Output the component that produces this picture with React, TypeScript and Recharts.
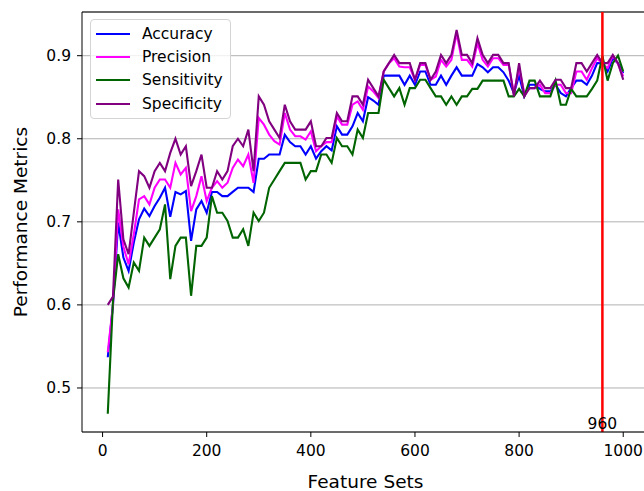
import { CartesianGrid, Line, LineChart, ReferenceLine, XAxis, YAxis } from "recharts";

const featureSets = [
  10, 20, 30, 40, 50, 60, 70, 80, 90, 100,
  110, 120, 130, 140, 150, 160, 170, 180, 190, 200,
  210, 220, 230, 240, 250, 260, 270, 280, 290, 300,
  310, 320, 330, 340, 350, 360, 370, 380, 390, 400,
  410, 420, 430, 440, 450, 460, 470, 480, 490, 500,
  510, 520, 530, 540, 550, 560, 570, 580, 590, 600,
  610, 620, 630, 640, 650, 660, 670, 680, 690, 700,
  710, 720, 730, 740, 750, 760, 770, 780, 790, 800,
  810, 820, 830, 840, 850, 860, 870, 880, 890, 900,
  910, 920, 930, 940, 950, 960, 970, 980, 990, 1000,
];

const accuracy = [
  0.537, 0.6, 0.699, 0.657, 0.641, 0.675, 0.703, 0.716, 0.707, 0.719,
  0.729, 0.741, 0.706, 0.736, 0.733, 0.737, 0.677, 0.715, 0.725, 0.711,
  0.736, 0.736, 0.731, 0.731, 0.736, 0.741, 0.741, 0.741, 0.736, 0.776,
  0.776, 0.781, 0.781, 0.781, 0.805, 0.796, 0.791, 0.791, 0.781, 0.791,
  0.776, 0.785, 0.791, 0.786, 0.815, 0.805, 0.805, 0.815, 0.831, 0.821,
  0.85, 0.846, 0.841, 0.876, 0.876, 0.876, 0.876, 0.865, 0.876, 0.865,
  0.881, 0.881, 0.865, 0.865, 0.876, 0.865, 0.876, 0.886, 0.876, 0.876,
  0.876, 0.89, 0.886, 0.88, 0.886, 0.886, 0.88, 0.87, 0.855, 0.876,
  0.851, 0.865, 0.865, 0.86, 0.857, 0.857, 0.865, 0.855, 0.851, 0.861,
  0.87, 0.87, 0.865, 0.876, 0.891, 0.891, 0.881, 0.897, 0.891, 0.879,
];

const precision = [
  0.543, 0.6, 0.715, 0.67, 0.649, 0.685, 0.727, 0.731, 0.721, 0.741,
  0.751, 0.751, 0.741, 0.771, 0.757, 0.765, 0.713, 0.731, 0.755, 0.725,
  0.741, 0.749, 0.741, 0.747, 0.765, 0.775, 0.767, 0.781, 0.747, 0.825,
  0.817, 0.805, 0.797, 0.793, 0.831, 0.811, 0.803, 0.803, 0.799, 0.809,
  0.785, 0.791, 0.796, 0.796, 0.827, 0.817, 0.817, 0.841, 0.845, 0.835,
  0.863, 0.857, 0.849, 0.881, 0.891, 0.897, 0.887, 0.886, 0.886, 0.871,
  0.889, 0.889, 0.871, 0.875, 0.895, 0.887, 0.895, 0.927, 0.895, 0.895,
  0.887, 0.915, 0.895, 0.887, 0.897, 0.897, 0.889, 0.889, 0.855, 0.885,
  0.855, 0.861, 0.861, 0.865, 0.855, 0.855, 0.865, 0.865, 0.855, 0.855,
  0.881, 0.881, 0.871, 0.885, 0.897, 0.89, 0.885, 0.9, 0.89, 0.875,
];

const sensitivity = [
  0.469, 0.605, 0.661, 0.632, 0.621, 0.651, 0.641, 0.681, 0.671, 0.681,
  0.691, 0.721, 0.631, 0.671, 0.681, 0.681, 0.611, 0.671, 0.671, 0.681,
  0.731, 0.711, 0.711, 0.701, 0.681, 0.681, 0.691, 0.671, 0.711, 0.701,
  0.711, 0.741, 0.751, 0.761, 0.771, 0.771, 0.771, 0.771, 0.751, 0.761,
  0.761, 0.781, 0.781, 0.771, 0.801, 0.791, 0.791, 0.781, 0.811, 0.801,
  0.831, 0.831, 0.831, 0.871, 0.861, 0.851, 0.861, 0.841, 0.861, 0.861,
  0.871, 0.871, 0.861, 0.851, 0.851, 0.841, 0.851, 0.841, 0.851, 0.851,
  0.86, 0.86, 0.87, 0.87, 0.87, 0.87, 0.87, 0.851, 0.851, 0.86,
  0.851, 0.87, 0.87, 0.851, 0.851, 0.851, 0.87, 0.841, 0.841, 0.86,
  0.851, 0.851, 0.851, 0.86, 0.87, 0.9, 0.87, 0.891, 0.9, 0.881,
];

const specificity = [
  0.6, 0.61, 0.751, 0.679, 0.661, 0.711, 0.761, 0.755, 0.741, 0.761,
  0.771, 0.761, 0.783, 0.8, 0.781, 0.791, 0.743, 0.761, 0.781, 0.741,
  0.741, 0.761, 0.751, 0.761, 0.791, 0.8, 0.791, 0.811, 0.761, 0.851,
  0.841, 0.821, 0.811, 0.801, 0.841, 0.821, 0.811, 0.811, 0.811, 0.821,
  0.791, 0.791, 0.801, 0.801, 0.831, 0.821, 0.821, 0.851, 0.851, 0.841,
  0.871, 0.861, 0.851, 0.881, 0.891, 0.901, 0.891, 0.891, 0.891, 0.871,
  0.891, 0.891, 0.871, 0.881, 0.901, 0.891, 0.901, 0.931, 0.901, 0.901,
  0.891, 0.921, 0.901, 0.891, 0.901, 0.901, 0.891, 0.891, 0.851, 0.891,
  0.851, 0.861, 0.861, 0.87, 0.861, 0.861, 0.871, 0.871, 0.861, 0.861,
  0.891, 0.891, 0.881, 0.891, 0.901, 0.891, 0.891, 0.901, 0.891, 0.871,
];

const xTicks = [0, 200, 400, 600, 800, 1000];
const yTicks = [0.5, 0.6, 0.7, 0.8, 0.9];
const bestFeatureSet = 960;

const series = [
  { key: "accuracy", name: "Accuracy", color: "#0000ff" },
  { key: "precision", name: "Precision", color: "#ff00ff" },
  { key: "sensitivity", name: "Sensitivity", color: "#006400" },
  { key: "specificity", name: "Specificity", color: "#800080" },
];

const data = featureSets.map((f, i) => ({
  features: f,
  accuracy: accuracy[i],
  precision: precision[i],
  sensitivity: sensitivity[i],
  specificity: specificity[i],
}));

const font = "'DejaVu Sans', sans-serif";

// matplotlib-style legend box, placed over the plot's top-left corner
const LegendBox = () => (
  <div
    style={{
      position: "absolute",
      left: 90,
      top: 19,
      border: "1px solid #d4d4d4",
      borderRadius: 4,
      background: "rgba(255,255,255,0.8)",
      padding: "2px 7px 3px 5px",
      fontFamily: font,
      fontSize: 15.5,
      color: "#000",
    }}
  >
    {series.map((s) => (
      <div key={s.key} style={{ display: "flex", alignItems: "center", height: 23.3 }}>
        <div style={{ width: 34, height: 2, background: s.color, marginRight: 12 }} />
        <span>{s.name}</span>
      </div>
    ))}
  </div>
);

export default function App() {
  return (
    <div style={{ position: "absolute", left: 0, top: 0, width: 644, height: 491, overflow: "hidden", background: "#fff" }}>
      <LineChart width={650} height={491} data={data} margin={{ top: 12, right: 1, left: 0, bottom: 0 }}>
        <CartesianGrid vertical={false} stroke="#b0b0b0" strokeWidth={1} />
        <XAxis
          dataKey="features"
          type="number"
          domain={[-39.5, 1049.5]}
          ticks={xTicks}
          height={59}
          tickSize={5}
          tickMargin={8}
          stroke="#000"
          tick={{ fill: "#000", fontSize: 15.5, fontFamily: font }}
          label={{
            value: "Feature Sets",
            position: "insideBottom",
            offset: 3,
            style: { fontSize: 18.5, fontFamily: font, fill: "#000" },
          }}
        />
        <YAxis
          type="number"
          domain={[0.447, 0.9526]}
          ticks={yTicks}
          allowDataOverflow
          width={82}
          tickSize={5}
          tickMargin={6}
          stroke="#000"
          tickFormatter={(v: number) => v.toFixed(1)}
          tick={{ fill: "#000", fontSize: 15.5, fontFamily: font }}
          label={{
            value: "Performance Metrics",
            angle: -90,
            position: "insideLeft",
            offset: 20,
            textAnchor: "middle",
            style: { fontSize: 18.5, fontFamily: font, fill: "#000", textAnchor: "middle" },
          }}
        />
        <ReferenceLine y={0.9526} stroke="#000" strokeWidth={1.2} />
        {series.map((s) => (
          <Line
            key={s.key}
            type="linear"
            dataKey={s.key}
            name={s.name}
            stroke={s.color}
            strokeWidth={2.1}
            dot={false}
            activeDot={false}
            isAnimationActive={false}
          />
        ))}
        <ReferenceLine
          x={bestFeatureSet}
          stroke="#ff0000"
          strokeWidth={2.5}
          label={{
            value: String(bestFeatureSet),
            position: "insideBottom",
            offset: 3,
            style: { fontSize: 15.5, fontFamily: font, fill: "#000" },
          }}
        />
      </LineChart>
      <LegendBox />
    </div>
  );
}
